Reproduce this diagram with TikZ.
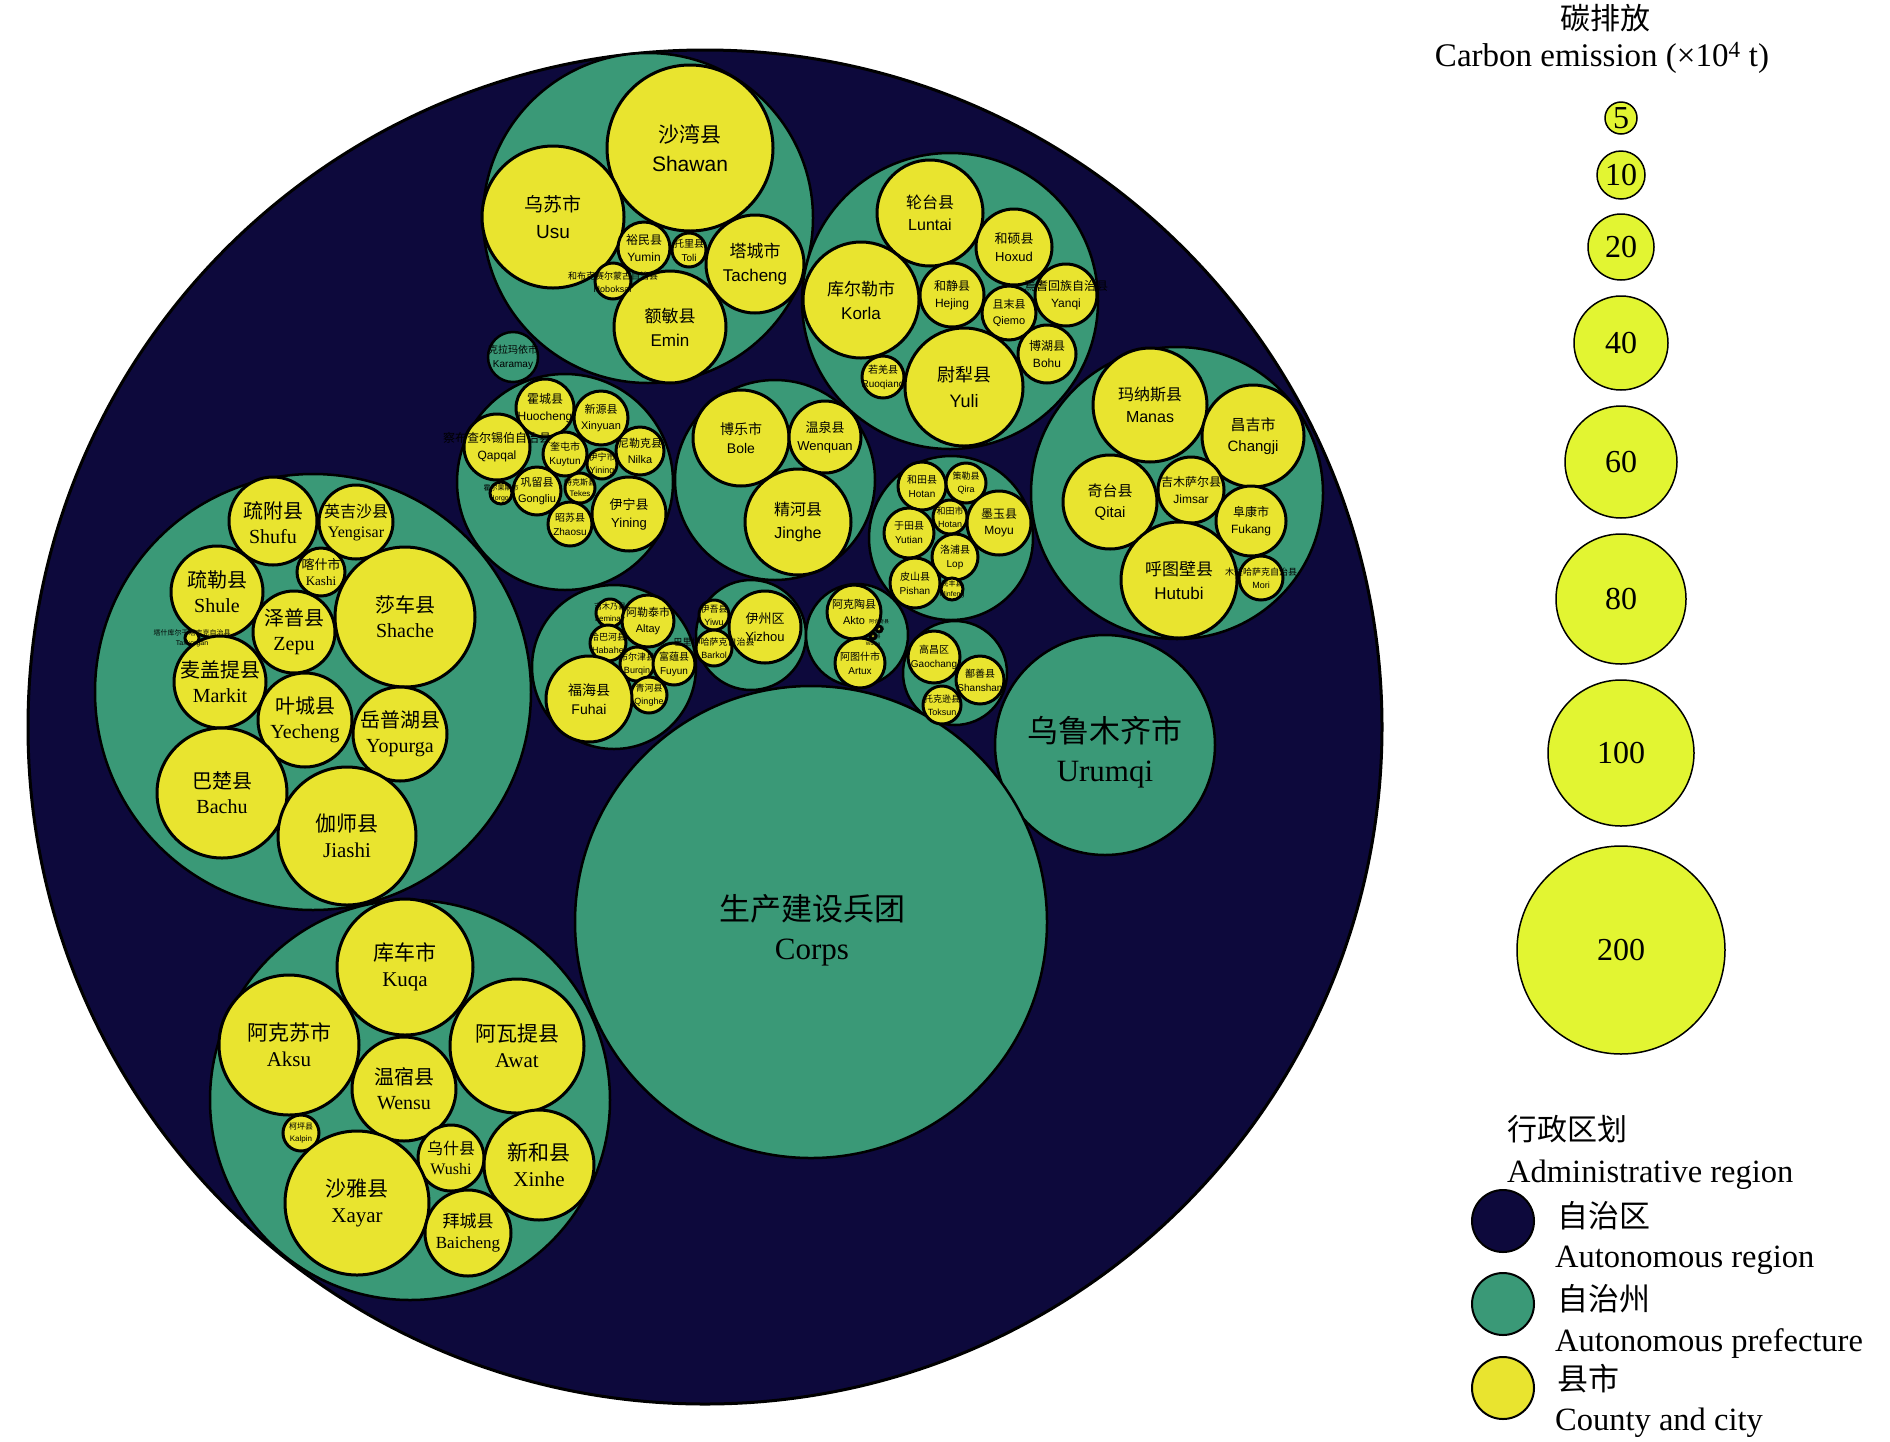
\documentclass[tikz,border=0pt]{standalone}
\usepackage{fontspec}
\setmainfont{Liberation Serif}
\setsansfont{Liberation Sans}
\newfontfamily\cjk{Noto Sans CJK SC}
\usepackage{tikz}

\definecolor{navyreg}{RGB}{13,9,60}
\definecolor{greenpref}{RGB}{58,153,119}
\definecolor{yellowcty}{RGB}{233,228,47}
\definecolor{yellowleg}{RGB}{226,245,50}

\begin{document}
\begin{tikzpicture}[x=1pt,y=-1pt,
    reg/.style={fill=navyreg,draw=black,line width=3},
    pref/.style={fill=greenpref,draw=black,line width=2.5},
    cty/.style={fill=yellowcty,draw=black,line width=3},
    leg/.style={fill=yellowleg,draw=black,line width=1.5},
    sf/.style={align=center,inner sep=0pt,font=\sffamily\fontsize{#1}{\fpeval{1.4*#1}}\selectfont},
    rm/.style={align=center,inner sep=0pt,font=\rmfamily\fontsize{#1}{\fpeval{1.25*#1}}\selectfont}]
        \useasboundingbox (0,0) rectangle (1890,1441);
        % autonomous region
        \filldraw[reg] (705,727) circle (677);
        % prefectures
        \filldraw[pref] (648,218) circle (165);
        \filldraw[pref] (513,357) circle (25);
        \filldraw[pref] (950,301) circle (148);
        \filldraw[pref] (565,482) circle (108);
        \filldraw[pref] (775,480) circle (100);
        \filldraw[pref] (951,538) circle (82);
        \filldraw[pref] (1177,493) circle (146);
        \filldraw[pref] (313,692) circle (218);
        \filldraw[pref] (410,1100) circle (200);
        \filldraw[pref] (614,667) circle (82);
        \filldraw[pref] (751,635) circle (55);
        \filldraw[pref] (857,635) circle (51);
        \filldraw[pref] (955,673) circle (52);
        \filldraw[pref] (1105,745) circle (110);
        \filldraw[pref] (811,922) circle (236);
        % Tacheng
        \filldraw[cty] (690,148) circle (83);
        \filldraw[cty] (553,217) circle (71);
        \filldraw[cty] (644,248) circle (26);
        \filldraw[cty] (689,250) circle (17);
        \filldraw[cty] (755,264) circle (49);
        \filldraw[cty] (613,281) circle (18);
        \filldraw[cty] (670,327) circle (56);
        % Bayingol
        \filldraw[cty] (930,213) circle (53);
        \filldraw[cty] (1014,247) circle (38);
        \filldraw[cty] (861,300) circle (58);
        \filldraw[cty] (952,295) circle (32);
        \filldraw[cty] (1009,313) circle (27);
        \filldraw[cty] (1066,295) circle (31);
        \filldraw[cty] (1047,354) circle (29);
        \filldraw[cty] (883,377) circle (21);
        \filldraw[cty] (964,387) circle (59);
        % Ili
        \filldraw[cty] (545,408) circle (29);
        \filldraw[cty] (601,418) circle (27);
        \filldraw[cty] (497,447) circle (33);
        \filldraw[cty] (565,454) circle (22);
        \filldraw[cty] (602,464) circle (15);
        \filldraw[cty] (640,451) circle (24);
        \filldraw[cty] (501,493) circle (11);
        \filldraw[cty] (537,491) circle (24);
        \filldraw[cty] (580,488) circle (15);
        \filldraw[cty] (570,524) circle (22);
        \filldraw[cty] (629,514) circle (37);
        % Bortala
        \filldraw[cty] (741,438) circle (48);
        \filldraw[cty] (825,437) circle (36);
        \filldraw[cty] (798,522) circle (53);
        % Hotan
        \filldraw[cty] (922,486) circle (24);
        \filldraw[cty] (966,483) circle (20);
        \filldraw[cty] (950,517) circle (17);
        \filldraw[cty] (999,523) circle (32);
        \filldraw[cty] (909,533) circle (25);
        \filldraw[cty] (955,557) circle (23);
        \filldraw[cty] (915,583) circle (25);
        \filldraw[cty] (952,589) circle (11);
        % Changji
        \filldraw[cty] (1150,405) circle (57);
        \filldraw[cty] (1253,436) circle (51);
        \filldraw[cty] (1110,502) circle (47);
        \filldraw[cty] (1191,490) circle (33);
        \filldraw[cty] (1251,521) circle (35);
        \filldraw[cty] (1179,580) circle (58);
        \filldraw[cty] (1261,578) circle (22);
        % Kashgar
        \filldraw[cty] (273,521) circle (44);
        \filldraw[cty] (356,522) circle (37);
        \filldraw[cty] (321,572) circle (24);
        \filldraw[cty] (217,592) circle (46);
        \filldraw[cty] (192,638) circle (7);
        \filldraw[cty] (294,632) circle (41);
        \filldraw[cty] (405,617) circle (70);
        \filldraw[cty] (220,682) circle (46);
        \filldraw[cty] (305,720) circle (47);
        \filldraw[cty] (400,734) circle (47);
        \filldraw[cty] (222,793) circle (65);
        \filldraw[cty] (347,836) circle (69);
        % Aksu
        \filldraw[cty] (405,967) circle (68);
        \filldraw[cty] (289,1045) circle (70);
        \filldraw[cty] (517,1046) circle (67);
        \filldraw[cty] (404,1089) circle (52);
        \filldraw[cty] (301,1133) circle (18);
        \filldraw[cty] (451,1158) circle (33);
        \filldraw[cty] (539,1165) circle (55);
        \filldraw[cty] (357,1203) circle (72);
        \filldraw[cty] (468,1233) circle (43);
        % Altay
        \filldraw[cty] (610,613) circle (14);
        \filldraw[cty] (648,621) circle (26);
        \filldraw[cty] (608,643) circle (18);
        \filldraw[cty] (637,664) circle (17);
        \filldraw[cty] (674,664) circle (21);
        \filldraw[cty] (649,695) circle (18);
        \filldraw[cty] (589,699) circle (43);
        % Hami
        \filldraw[cty] (714,615) circle (15);
        \filldraw[cty] (714,648) circle (18);
        \filldraw[cty] (765,627) circle (36);
        % Kizilsu
        \filldraw[cty] (854,612) circle (27);
        \filldraw[cty] (860,663) circle (25);
        \filldraw[cty] (879,629) circle (3);
        \filldraw[cty] (873,636) circle (3);
        % Turpan
        \filldraw[cty] (934,657) circle (26);
        \filldraw[cty] (980,680) circle (24);
        \filldraw[cty] (942,705) circle (19);
        % labels
        \node[sf=21] (shawan) at(690,148) {{\cjk 沙湾县}\\Shawan};
        \node[sf=19] (usu) at(553,217) {{\cjk 乌苏市}\\Usu};
        \node[sf=12] (yumin) at(644,248) {{\cjk 裕民县}\\Yumin};
        \node[sf=10] (toli) at(689,250) {{\cjk 托里县}\\Toli};
        \node[sf=17] (tacheng) at(755,264) {{\cjk 塔城市}\\Tacheng};
        \node[sf=9] (hoboksar) at(613,282) {{\cjk 和布克赛尔蒙古自治县}\\Hoboksar};
        \node[sf=17] (emin) at(670,327) {{\cjk 额敏县}\\Emin};
        \node[sf=10] (karamay) at(513,357) {{\cjk 克拉玛依市}\\Karamay};
        \node[sf=16] (luntai) at(930,213) {{\cjk 轮台县}\\Luntai};
        \node[sf=13] (hoxud) at(1014,247) {{\cjk 和硕县}\\Hoxud};
        \node[sf=17] (korla) at(861,300) {{\cjk 库尔勒市}\\Korla};
        \node[sf=12] (hejing) at(952,295) {{\cjk 和静县}\\Hejing};
        \node[sf=11] (qiemo) at(1009,313) {{\cjk 且末县}\\Qiemo};
        \node[sf=12] (yanqi) at(1066,295) {{\cjk 焉耆回族自治县}\\Yanqi};
        \node[sf=12] (bohu) at(1047,354) {{\cjk 博湖县}\\Bohu};
        \node[sf=10] (ruoqiang) at(883,377) {{\cjk 若羌县}\\Ruoqiang};
        \node[sf=18] (yuli) at(964,387) {{\cjk 尉犁县}\\Yuli};
        \node[sf=12] (huocheng) at(545,408) {{\cjk 霍城县}\\Huocheng};
        \node[sf=11] (xinyuan) at(601,418) {{\cjk 新源县}\\Xinyuan};
        \node[sf=12] (qapqal) at(497,447) {{\cjk 察布查尔锡伯自治县}\\Qapqal};
        \node[sf=10] (kuytun) at(565,454) {{\cjk 奎屯市}\\Kuytun};
        \node[sf=9] (yiningc) at(602,464) {{\cjk 伊宁市}\\Yining};
        \node[sf=11] (nilka) at(640,451) {{\cjk 尼勒克县}\\Nilka};
        \node[sf=7] (horgos) at(501,493) {{\cjk 霍尔果斯市}\\Horgos};
        \node[sf=11] (gongliu) at(537,491) {{\cjk 巩留县}\\Gongliu};
        \node[sf=8] (tekes) at(580,488) {{\cjk 特克斯县}\\Tekes};
        \node[sf=10] (zhaosu) at(570,524) {{\cjk 昭苏县}\\Zhaosu};
        \node[sf=13] (yining) at(629,514) {{\cjk 伊宁县}\\Yining};
        \node[sf=14] (bole) at(741,438) {{\cjk 博乐市}\\Bole};
        \node[sf=13] (wenquan) at(825,437) {{\cjk 温泉县}\\Wenquan};
        \node[sf=16] (jinghe) at(798,522) {{\cjk 精河县}\\Jinghe};
        \node[sf=10] (hotan) at(922,486) {{\cjk 和田县}\\Hotan};
        \node[sf=9] (qira) at(966,483) {{\cjk 策勒县}\\Qira};
        \node[sf=9] (hotanc) at(950,517) {{\cjk 和田市}\\Hotan};
        \node[sf=12] (moyu) at(999,523) {{\cjk 墨玉县}\\Moyu};
        \node[sf=10] (yutian) at(909,533) {{\cjk 于田县}\\Yutian};
        \node[sf=10] (lop) at(955,557) {{\cjk 洛浦县}\\Lop};
        \node[sf=10] (pishan) at(915,583) {{\cjk 皮山县}\\Pishan};
        \node[sf=7] (minfeng) at(952,589) {{\cjk 民丰县}\\Minfeng};
        \node[sf=16] (manas) at(1150,405) {{\cjk 玛纳斯县}\\Manas};
        \node[sf=15] (changji) at(1253,436) {{\cjk 昌吉市}\\Changji};
        \node[sf=15] (qitai) at(1110,502) {{\cjk 奇台县}\\Qitai};
        \node[sf=12] (jimsar) at(1191,490) {{\cjk 吉木萨尔县}\\Jimsar};
        \node[sf=12] (fukang) at(1251,521) {{\cjk 阜康市}\\Fukang};
        \node[sf=17] (hutubi) at(1179,580) {{\cjk 呼图壁县}\\Hutubi};
        \node[sf=9] (mori) at(1261,578) {{\cjk 木垒哈萨克自治县}\\Mori};
        \node[rm=20] (shufu) at(273,523) {{\cjk 疏附县}\\Shufu};
        \node[rm=16] (yengisar) at(356,522) {{\cjk 英吉沙县}\\Yengisar};
        \node[rm=13] (kashi) at(321,572) {{\cjk 喀什市}\\Kashi};
        \node[rm=20] (shule) at(217,592) {{\cjk 疏勒县}\\Shule};
        \node[sf=7] (taxkorgan) at(192,638) {{\cjk 塔什库尔干塔吉克自治县}\\Taxkorgan};
        \node[rm=20] (zepu) at(294,632) {{\cjk 泽普县}\\Zepu};
        \node[rm=20] (shache) at(405,617) {{\cjk 莎车县}\\Shache};
        \node[rm=20] (markit) at(220,682) {{\cjk 麦盖提县}\\Markit};
        \node[rm=20] (yecheng) at(305,720) {{\cjk 叶城县}\\Yecheng};
        \node[rm=20] (yopurga) at(400,734) {{\cjk 岳普湖县}\\Yopurga};
        \node[rm=20] (bachu) at(222,793) {{\cjk 巴楚县}\\Bachu};
        \node[rm=21] (jiashi) at(347,836) {{\cjk 伽师县}\\Jiashi};
        \node[rm=21] (kuqa) at(405,967) {{\cjk 库车市}\\Kuqa};
        \node[rm=21] (aksu) at(289,1045) {{\cjk 阿克苏市}\\Aksu};
        \node[rm=21] (awat) at(517,1046) {{\cjk 阿瓦提县}\\Awat};
        \node[rm=20] (wensu) at(404,1089) {{\cjk 温宿县}\\Wensu};
        \node[sf=8] (kalpin) at(301,1133) {{\cjk 柯坪县}\\Kalpin};
        \node[rm=16] (wushi) at(451,1158) {{\cjk 乌什县}\\Wushi};
        \node[rm=21] (xinhe) at(539,1165) {{\cjk 新和县}\\Xinhe};
        \node[rm=21] (xayar) at(357,1203) {{\cjk 沙雅县}\\Xayar};
        \node[rm=17] (baicheng) at(468,1233) {{\cjk 拜城县}\\Baicheng};
        \node[sf=8] (jeminay) at(610,613) {{\cjk 吉木乃县}\\Jeminay};
        \node[sf=11] (altay) at(648,621) {{\cjk 阿勒泰市}\\Altay};
        \node[sf=9] (habahe) at(608,643) {{\cjk 哈巴河县}\\Habahe};
        \node[sf=9] (burqin) at(637,664) {{\cjk 布尔津县}\\Burqin};
        \node[sf=10] (fuyun) at(674,664) {{\cjk 富蕴县}\\Fuyun};
        \node[sf=9] (qinghe) at(649,695) {{\cjk 青河县}\\Qinghe};
        \node[sf=14] (fuhai) at(589,699) {{\cjk 福海县}\\Fuhai};
        \node[sf=9] (yiwu) at(714,615) {{\cjk 伊吾县}\\Yiwu};
        \node[sf=9] (barkol) at(714,648) {{\cjk 巴里坤哈萨克自治县}\\Barkol};
        \node[sf=13] (yizhou) at(765,627) {{\cjk 伊州区}\\Yizhou};
        \node[sf=11] (akto) at(854,612) {{\cjk 阿克陶县}\\Akto};
        \node[sf=10] (artux) at(860,663) {{\cjk 阿图什市}\\Artux};
        \node[sf=5] (akqi) at(879,625) {{\cjk 阿合奇县}\\Akqi};
        \node[sf=5] (wuqia) at(873,640) {{\cjk 乌恰县}\\Wuqia};
        \node[sf=10] (gaochang) at(934,657) {{\cjk 高昌区}\\Gaochang};
        \node[sf=10] (shanshan) at(980,680) {{\cjk 鄯善县}\\Shanshan};
        \node[sf=9] (toksun) at(942,705) {{\cjk 托克逊县}\\Toksun};
        \node[rm=31] (urumqi) at(1105,752) {{\cjk 乌鲁木齐市}\\Urumqi};
        \node[rm=31] (corps) at(812,930) {{\cjk 生产建设兵团}\\Corps};
        % legend: carbon emission
        \node[font=\cjk\fontsize{30}{30}\selectfont,inner sep=0pt] (ttl) at(1605,18) {碳排放};
        \node[rm=33] (ttlen) at(1602,58) {Carbon emission (×10\textsuperscript{4} t)};
        \filldraw[leg] (1621,118) circle (16);
        \filldraw[leg] (1621,175) circle (24);
        \filldraw[leg] (1621,247) circle (33);
        \filldraw[leg] (1621,343) circle (47);
        \filldraw[leg] (1621,462) circle (56);
        \filldraw[leg] (1621,599) circle (65);
        \filldraw[leg] (1621,753) circle (73);
        \filldraw[leg] (1621,950) circle (104);
        \node[rm=32] (v5) at(1621,118) {5};
        \node[rm=32] (v10) at(1621,175) {10};
        \node[rm=32] (v20) at(1621,247) {20};
        \node[rm=32] (v40) at(1621,343) {40};
        \node[rm=32] (v60) at(1621,462) {60};
        \node[rm=32] (v80) at(1621,599) {80};
        \node[rm=32] (v100) at(1621,753) {100};
        \node[rm=32] (v200) at(1621,950) {200};
        % legend: administrative region
        \node[font=\cjk\fontsize{30}{30}\selectfont,inner sep=0pt,anchor=base west] (adm) at(1507,1140) {行政区划};
        \node[rm=32.5,anchor=base west] (admen) at(1507,1182) {Administrative region};
        \filldraw[reg,line width=2] (1503,1221) circle (31);
        \filldraw[pref,line width=2] (1503,1304) circle (31);
        \filldraw[cty,line width=2] (1503,1388) circle (31);
        \node[font=\cjk\fontsize{31}{31}\selectfont,inner sep=0pt,anchor=base west] (regcn) at(1557,1227) {自治区};
        \node[rm=32.5,anchor=base west] (regen) at(1555,1267) {Autonomous region};
        \node[font=\cjk\fontsize{31}{31}\selectfont,inner sep=0pt,anchor=base west] (prefcn) at(1557,1310) {自治州};
        \node[rm=32.5,anchor=base west] (prefen) at(1555,1351) {Autonomous prefecture};
        \node[font=\cjk\fontsize{31}{31}\selectfont,inner sep=0pt,anchor=base west] (ctycn) at(1557,1390) {县市};
        \node[rm=32.5,anchor=base west] (ctyen) at(1555,1430) {County and city};
    \end{tikzpicture}
\end{document}
